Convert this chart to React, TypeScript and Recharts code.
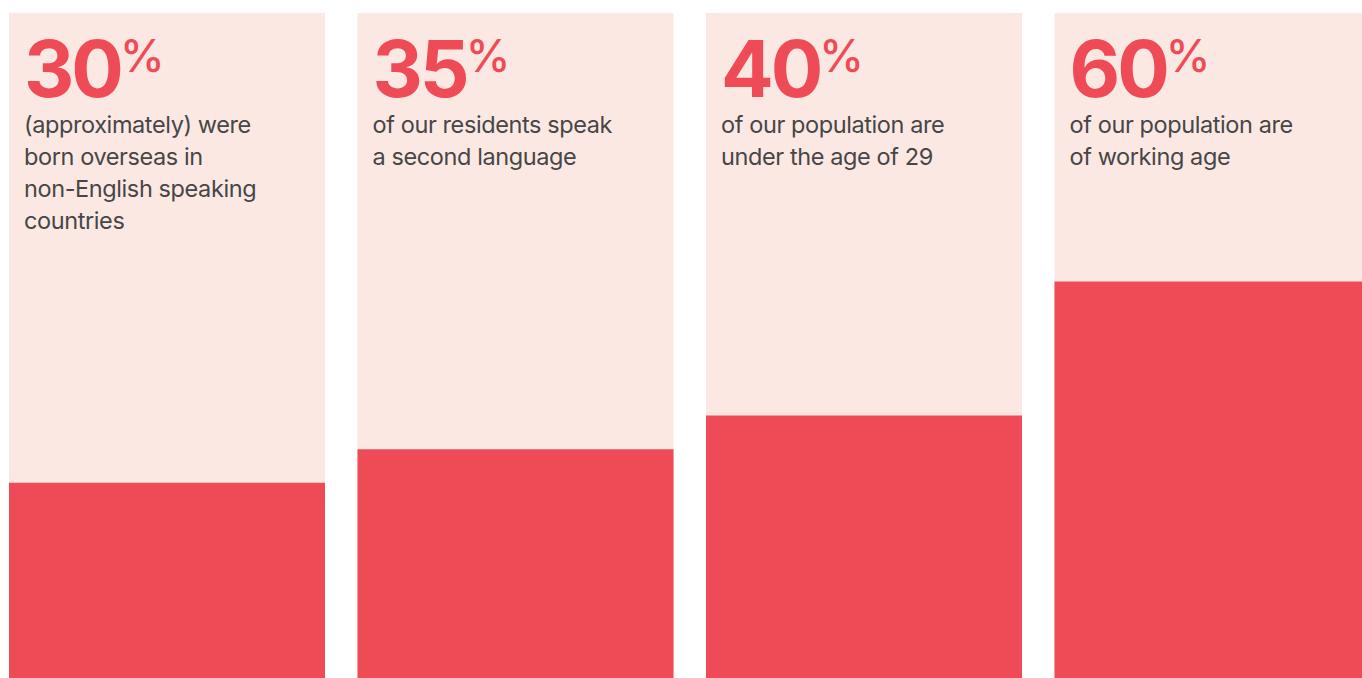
import { BarChart, Bar, XAxis, YAxis, LabelList } from "recharts";

const categories = ["born-overseas", "second-language", "under-29", "working-age"];
const percentages = [30, 35, 40, 60];
const descriptions = [
  ["(approximately) were", "born overseas in", "non-English speaking", "countries"],
  ["of our residents speak", "a second language"],
  ["of our population are", "under the age of 29"],
  ["of our population are", "of working age"],
];

const data = categories.map((name, i) => ({ name, value: percentages[i] }));

const RED = "#ef4b56";
const PINK = "#fce8e3";
const TEXT = "#464646";
const TOP = 13;

function StatLabel(props: any) {
  const { x, value } = props;
  const i = categories.indexOf(value);
  if (i < 0) return null;
  const left = Number(x) + 15;
  return (
    <g>
      <text
        x={left}
        y={TOP + 84}
        fill={RED}
        fontFamily="Inter, 'Noto Sans', sans-serif"
        fontSize={78}
        fontWeight={700}
        letterSpacing={-3}
      >
        {percentages[i]}
        <tspan dx={-1} dy={-25} fontSize={45} fontWeight={500} letterSpacing={0}>
          %
        </tspan>
      </text>
      {descriptions[i].map((line, k) => (
        <text
          key={k}
          x={left}
          y={TOP + 120 + k * 32}
          fill={TEXT}
          fontFamily="Inter, 'Noto Sans', sans-serif"
          fontSize={23.5}
          letterSpacing={-0.4}
        >
          {line}
        </text>
      ))}
    </g>
  );
}

export default function App() {
  return (
    <div
      style={{
        position: "fixed",
        left: 0,
        top: 0,
        width: 1362,
        height: 678,
        overflow: "hidden",
        background: "#fff",
      }}
    >
      <div style={{ position: "absolute", left: -7, top: 0 }}>
        <BarChart
          width={1394}
          height={684}
          data={data}
          margin={{ top: TOP, right: 0, bottom: 0, left: 0 }}
          barSize={316}
        >
          <XAxis dataKey="name" type="category" hide />
          <YAxis type="number" domain={[0, 100]} hide />
          <Bar
            dataKey="value"
            fill={RED}
            background={{ fill: PINK }}
            isAnimationActive={false}
          >
            <LabelList dataKey="name" content={<StatLabel />} />
          </Bar>
        </BarChart>
      </div>
    </div>
  );
}
